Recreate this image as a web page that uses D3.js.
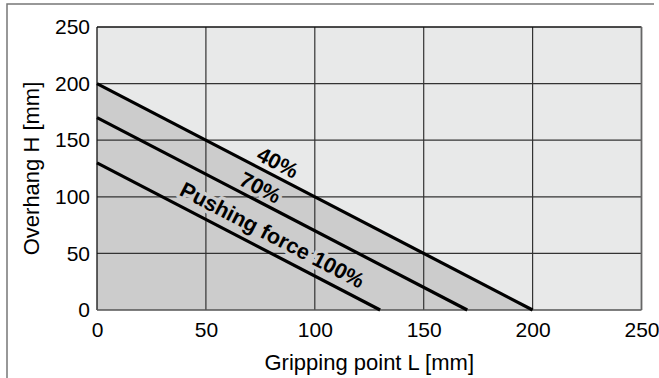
<!DOCTYPE html>
<html>
<head>
<meta charset="utf-8">
<script src="https://cdn.jsdelivr.net/npm/d3@7"></script>
<style>
  html, body { margin: 0; padding: 0; background: #fff; }
  svg { display: block; }
  text { font-family: "Liberation Sans", Arial, Helvetica, sans-serif; }
</style>
</head>
<body>
<svg id="chart" width="659" height="378"></svg>
<script>
// ---- data ----
const seriesNames = ["40%", "70%", "Pushing force 100%"];
const seriesH0 = [200, 170, 130];      // overhang H at L = 0 [mm]
const seriesL0 = [200, 170, 130];      // gripping point L at H = 0 [mm]
const labelL = [83, 75, 80.5];          // L position of each label along its line
const xTicks = [0, 50, 100, 150, 200, 250];
const yTicks = [0, 50, 100, 150, 200, 250];
const xTitle = "Gripping point L [mm]";
const yTitle = "Overhang H [mm]";

// ---- layout ----
const svg = d3.select("#chart");
const W = 659, H = 378;
const margin = { left: 97, top: 27, right: W - 641.5, bottom: H - 310 };
const x = d3.scaleLinear().domain([0, 250]).range([margin.left, W - margin.right]);
const y = d3.scaleLinear().domain([0, 250]).range([H - margin.bottom, margin.top]);

const light = "#e8e9e9", dark = "#cccccc";
const fontTick = 21, fontTitle = 22, fontLabel = 21.5;

// outer frame (open at bottom / right)
svg.append("path")
  .attr("d", `M7,378 L7,4 L654,4`)
  .attr("fill", "none").attr("stroke", "#777").attr("stroke-width", 1.5);

// plot background
svg.append("rect")
  .attr("x", x(0)).attr("y", y(250))
  .attr("width", x(250) - x(0)).attr("height", y(0) - y(250))
  .attr("fill", light);

// dark area under the outermost (40%) line
svg.append("path")
  .datum([[0, seriesH0[0]], [seriesL0[0], 0], [0, 0]])
  .attr("d", d3.line().x(d => x(d[0])).y(d => y(d[1])))
  .attr("fill", dark);

// grid
const grid = svg.append("g");
grid.selectAll("line.v").data(xTicks.slice(1, -1)).join("line")
  .attr("x1", d => x(d)).attr("x2", d => x(d))
  .attr("y1", y(0)).attr("y2", y(250))
  .attr("stroke", "#333").attr("stroke-width", 1.2);
grid.selectAll("line.h").data(yTicks.slice(1, -1)).join("line")
  .attr("x1", x(0)).attr("x2", x(250))
  .attr("y1", d => y(d)).attr("y2", d => y(d))
  .attr("stroke", "#333").attr("stroke-width", 1.2);

// plot border
svg.append("line").attr("x1", x(0)).attr("x2", x(250)).attr("y1", y(250)).attr("y2", y(250))
  .attr("stroke", "#111").attr("stroke-width", 1.3);
svg.append("line").attr("x1", x(0)).attr("x2", x(0)).attr("y1", y(0)).attr("y2", y(250))
  .attr("stroke", "#111").attr("stroke-width", 1.3);
svg.append("line").attr("x1", x(0)).attr("x2", x(250)).attr("y1", y(0)).attr("y2", y(0))
  .attr("stroke", "#555").attr("stroke-width", 1.5);
svg.append("line").attr("x1", x(250)).attr("x2", x(250)).attr("y1", y(0)).attr("y2", y(250))
  .attr("stroke", "#666").attr("stroke-width", 1.8);

// series labels, rotated along the lines (drawn before lines so halos hide grid only)
const angle = Math.atan2(y(0) - y(seriesH0[0]), x(seriesL0[0]) - x(0)) * 180 / Math.PI;
const labelOffset = [15, 15, 19];
svg.append("g").selectAll("text").data(seriesNames).join("text")
  .attr("transform", (d, i) => {
    const L = labelL[i];
    const Hv = seriesH0[i] * (1 - L / seriesL0[i]);
    return `translate(${x(L)},${y(Hv) - labelOffset[i]}) rotate(${angle})`;
  })
  .attr("text-anchor", "middle").attr("dy", "0.35em")
  .attr("font-size", fontLabel).attr("font-weight", "bold")
  .attr("paint-order", "stroke").attr("stroke-width", 7).attr("stroke-linejoin", "round")
  .attr("stroke", (d, i) => i === 0 ? light : dark)
  .attr("fill", "#000")
  .text(d => d);

// series lines
svg.append("g").selectAll("line").data(seriesNames).join("line")
  .attr("x1", (d, i) => x(0)).attr("y1", (d, i) => y(seriesH0[i]))
  .attr("x2", (d, i) => x(seriesL0[i])).attr("y2", (d, i) => y(0))
  .attr("stroke", "#000").attr("stroke-width", 3.2);

// axes tick labels
const xAxis = d3.axisBottom(x).tickValues(xTicks).tickSize(0).tickPadding(12);
const gx = svg.append("g").attr("transform", `translate(0,${y(0)})`).call(xAxis);
gx.select(".domain").remove();
gx.selectAll("text").attr("font-size", fontTick).attr("fill", "#000")
  .style("font-family", '"Liberation Sans", Arial, sans-serif');

const yAxis = d3.axisLeft(y).tickValues(yTicks).tickSize(0).tickPadding(7);
const gy = svg.append("g").attr("transform", `translate(${x(0)},0)`).call(yAxis);
gy.select(".domain").remove();
gy.selectAll("text").attr("font-size", fontTick).attr("fill", "#000")
  .style("font-family", '"Liberation Sans", Arial, sans-serif');

// axis titles
svg.append("text").attr("x", (x(0) + x(250)) / 2).attr("y", 370)
  .attr("text-anchor", "middle").attr("font-size", fontTitle).attr("fill", "#000")
  .text(xTitle);
svg.append("text")
  .attr("transform", `translate(39,${(y(0) + y(250)) / 2}) rotate(-90)`)
  .attr("text-anchor", "middle").attr("font-size", fontTitle).attr("fill", "#000")
  .text(yTitle);
</script>
</body>
</html>
